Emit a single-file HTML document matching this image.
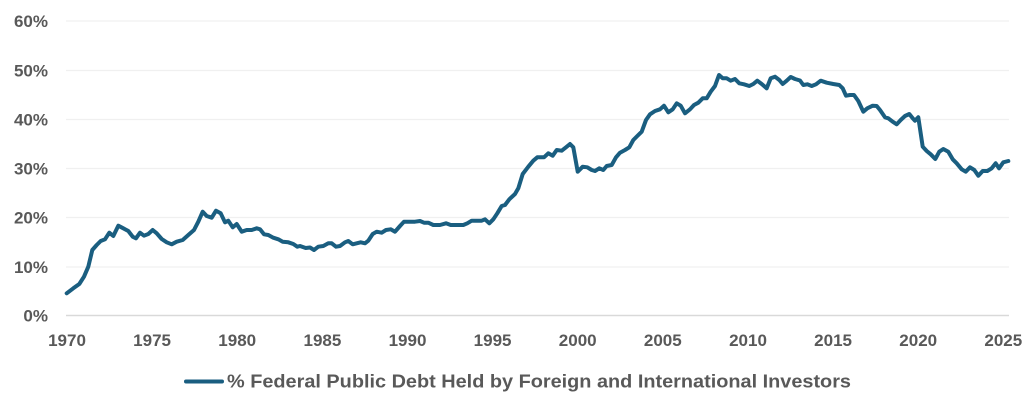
<!DOCTYPE html>
<html><head><meta charset="utf-8"><style>
html,body{margin:0;padding:0;background:#fff;}
svg{display:block;}
</style></head><body>
<svg width="1030" height="412" viewBox="0 0 1030 412" xmlns="http://www.w3.org/2000/svg">
<rect width="1030" height="412" fill="#fff"/>
<g stroke="#f0f0f0" stroke-width="1.2">
<line x1="66" y1="21" x2="1009" y2="21"/>
<line x1="66" y1="70.5" x2="1009" y2="70.5"/>
<line x1="66" y1="119.5" x2="1009" y2="119.5"/>
<line x1="66" y1="168.5" x2="1009" y2="168.5"/>
<line x1="66" y1="217.5" x2="1009" y2="217.5"/>
<line x1="66" y1="267" x2="1009" y2="267"/>
</g>
<line x1="66" y1="315.5" x2="1009" y2="315.5" stroke="#d9d9d9" stroke-width="1.5"/>
<g font-family="Liberation Sans, sans-serif" font-weight="bold" font-size="17" fill="#595959" text-anchor="end">
<text x="48" y="27">60%</text>
<text x="48" y="76.5">50%</text>
<text x="48" y="125.5">40%</text>
<text x="48" y="174.5">30%</text>
<text x="48" y="223.5">20%</text>
<text x="48" y="273">10%</text>
<text x="48" y="321.5">0%</text>
</g>
<g font-family="Liberation Sans, sans-serif" font-weight="bold" font-size="17" fill="#595959" text-anchor="middle">
<text x="67" y="346">1970</text>
<text x="152.1" y="346">1975</text>
<text x="237.2" y="346">1980</text>
<text x="322.4" y="346">1985</text>
<text x="407.5" y="346">1990</text>
<text x="492.6" y="346">1995</text>
<text x="577.7" y="346">2000</text>
<text x="662.8" y="346">2005</text>
<text x="748" y="346">2010</text>
<text x="833.1" y="346">2015</text>
<text x="918.2" y="346">2020</text>
<text x="1003.3" y="346">2025</text>
</g>
<polyline fill="none" stroke="#1a5e80" stroke-width="4" stroke-linejoin="round" stroke-linecap="round" points="
66.7,293.3 73.3,288.3 79.3,284 84,276.7 88.3,266.7 92.3,250 96.7,245 100.7,241 105,239.3 109.3,232.7 113.3,236 118.3,225.7 123.3,228.3 128.3,231 132.7,236.7 136,238.3 140,232.7 144,235.7 148.3,234 152.7,230 156.7,233.3 161.7,239 166.7,242.3 171.7,244.3 176.7,241.7 182.7,240 188.3,235 194,230 198.3,221.7 202.7,211.7 206.7,216 211.7,217.7 216,210.7 220.7,213.3 225,222.3 228.3,220.7 232.7,227.3 236.7,224 241.7,231.7 246.7,230 251.7,230 256.7,228.3 260,229.3 264,234.3 268.3,235 273.3,237.7 278.3,239.3 282.7,241.7 288.3,242.3 293.3,244 297.3,246.7 300,246 305.7,248 310,247.5 314,250 318.3,246.7 323.3,246 328.3,243.3 331.7,243.3 336,246.7 340,246 345,242.3 348.3,241 352.7,244.3 356.7,243.3 360.7,242.3 365,243.3 368.3,240.7 372.7,234 376.7,231.7 381.7,232.7 386,230 390.7,229.3 395,231.7 400,226 404,221.7 408.3,221.7 415,221.7 420,221 424,222.7 428.3,222.7 433.3,225 440,225 446,223.3 450.7,225 458.3,225 463.3,225 467.3,223.3 471.7,220.7 476.7,220.7 481.7,220.7 485,219.3 489.3,223.3 493.3,219.3 497.3,213.3 501.7,206 505,205 509.3,199.3 515,194 518.3,188.3 522.7,174 528.3,166.7 533.3,160.7 537.3,157.3 544,157.3 548.3,153.3 552.7,155.7 556.7,150 561.7,150.7 566,147.3 570,144 573.3,147.3 577.7,171.7 582.7,166.7 587.3,167.3 591.7,170 595,171 599.3,168.3 603.3,170 606.7,166 611.7,165 616,157.3 620,152.7 625,150 629.3,147.3 633.3,140 637.3,136 641.7,131.7 646,120 650,114.3 655,111 660,109.3 664,105.7 668.3,112.3 672.7,109.3 676.7,103.3 680.7,105.7 685,113.3 690,109.3 694,105 698.3,102.7 702.7,98.3 706.7,98.3 710.7,91.7 715,86 719,75 722.7,78.3 726.7,78.3 730.7,80.7 735,79 739.3,83.3 744,84.3 749.3,86 753.3,84 757.3,80.7 761.7,84 766.7,88.3 770.7,78.3 775,76.7 779.3,80 782.7,84 786.7,80.7 790.7,77 795,79 800,80.5 803.3,85 807.3,84.3 811.7,86 816,84.3 820.7,80.7 826.7,82.7 833.3,84 839.3,85 842.7,88.3 846,95.7 850,95 854,95 858.3,101 863.3,111.7 867.3,108.3 872.7,105.7 876.7,106 880,110 885,117.3 888.3,118.3 892.7,121.7 896.7,124.3 900.7,120 905,116 909.3,114 912.7,118.3 915,120.7 918.3,117.3 922.7,146.7 926.7,151 930.7,154.3 935.3,159 939.3,151.7 943.3,149 948.3,151.7 952.7,159.3 956.7,163.3 961.7,169.3 965.7,171.7 970,167.3 974.3,170 978.3,175.7 982.7,171 987.3,171 991.7,168.3 995.7,163.3 999,168.3 1003.3,162.3 1008.3,161"/>
<line x1="186" y1="381.5" x2="222" y2="381.5" stroke="#1a5e80" stroke-width="4" stroke-linecap="round"/>
<text x="227" y="387.5" font-family="Liberation Sans, sans-serif" font-weight="bold" font-size="18" fill="#595959" textLength="624" lengthAdjust="spacingAndGlyphs">% Federal Public Debt Held by Foreign and International Investors</text>
</svg>
</body></html>
